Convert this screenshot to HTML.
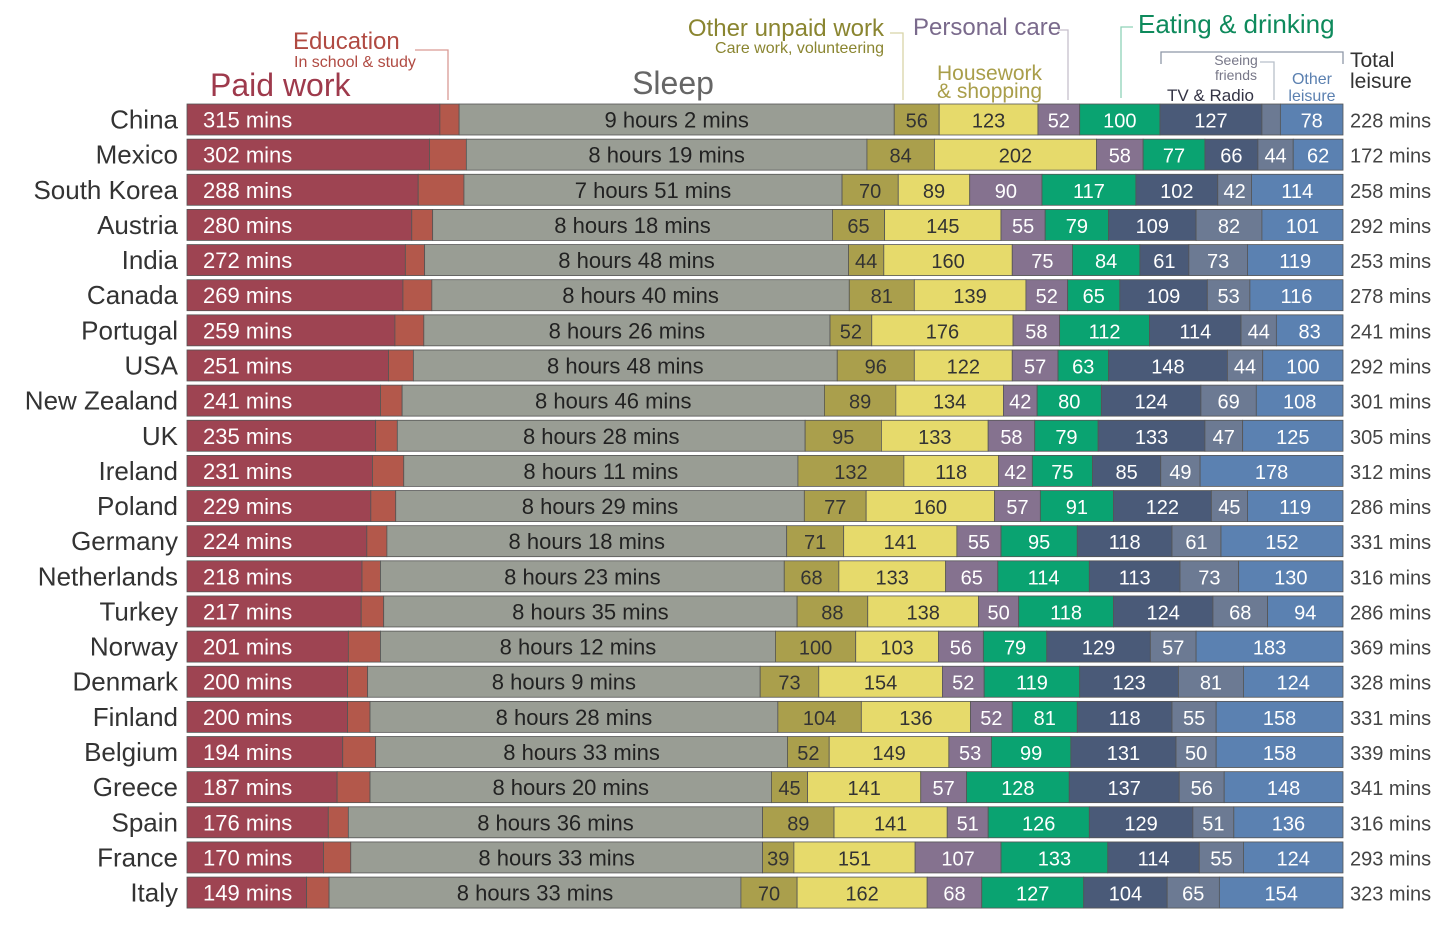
<!DOCTYPE html>
<html><head><meta charset="utf-8"><style>
body{margin:0;background:#fff;}
svg text{font-family:"Liberation Sans",sans-serif;}
</style></head><body>
<svg id="chart" width="1456" height="925" viewBox="0 0 1456 925" xmlns="http://www.w3.org/2000/svg">
<g>
<text x="293" y="49" font-size="24" fill="#b04a42">Education</text>
<text x="294" y="67" font-size="16" fill="#b04a42">In school &amp; study</text>
<polyline points="415,50 448,50 448,100" fill="none" stroke="#d99a94" stroke-width="1.3"/>
<text x="210" y="96" font-size="32" fill="#9e3a4c">Paid work</text>
<text x="673" y="94" font-size="32" fill="#666" text-anchor="middle">Sleep</text>
<text x="884" y="36" font-size="24" fill="#8a8530" text-anchor="end">Other unpaid work</text>
<text x="884" y="53" font-size="16" fill="#8a8530" text-anchor="end">Care work, volunteering</text>
<polyline points="890,33 903,33 903,100" fill="none" stroke="#d8d4a8" stroke-width="1.3"/>
<text x="913" y="35" font-size="24" fill="#7a6a8c">Personal care</text>
<polyline points="1058,30 1068,30 1068,100" fill="none" stroke="#c6bfcc" stroke-width="1.3"/>
<text x="937" y="80" font-size="21" fill="#a99e4a">Housework</text>
<text x="937" y="98" font-size="21" fill="#a99e4a">&amp; shopping</text>
<text x="1138" y="33" font-size="26" fill="#0e8a5c">Eating &amp; drinking</text>
<polyline points="1133,27 1121,27 1121,98" fill="none" stroke="#8fd2b8" stroke-width="1.3"/>
<polyline points="1161,64 1161,52 1343,52 1343,64" fill="none" stroke="#8e97a8" stroke-width="1.3"/>
<text x="1236" y="65" font-size="14" fill="#778" text-anchor="middle">Seeing</text>
<text x="1236" y="80" font-size="14" fill="#778" text-anchor="middle">friends</text>
<polyline points="1260,62 1274,62 1274,100" fill="none" stroke="#b8bfca" stroke-width="1.3"/>
<text x="1167" y="101" font-size="17" fill="#334">TV &amp; Radio</text>
<text x="1312" y="84" font-size="16" fill="#5b80b0" text-anchor="middle">Other</text>
<text x="1312" y="101" font-size="16" fill="#5b80b0" text-anchor="middle">leisure</text>
<text x="1350" y="67" font-size="21" fill="#333">Total</text>
<text x="1350" y="88" font-size="21" fill="#333">leisure</text>
</g>
<g id="rows"></g>
</svg>
<script>
const countries=["China","Mexico","South Korea","Austria","India","Canada","Portugal","USA","New Zealand","UK","Ireland","Poland","Germany","Netherlands","Turkey","Norway","Denmark","Finland","Belgium","Greece","Spain","France","Italy"];
const paid=[315,302,288,280,272,269,259,251,241,235,231,229,224,218,217,201,200,200,194,187,176,170,149];
const education=[24,46,57,26,24,36,36,31,27,27,39,31,25,23,28,40,25,28,41,41,25,34,28];
const sleep=[542,499,471,498,528,520,506,528,526,508,491,509,498,503,515,492,489,508,513,500,516,513,513];
const unpaid=[56,84,70,65,44,81,52,96,89,95,132,77,71,68,88,100,73,104,52,45,89,39,70];
const housework=[123,202,89,145,160,139,176,122,134,133,118,160,141,133,138,103,154,136,149,141,141,151,162];
const care=[52,58,90,55,75,52,58,57,42,58,42,57,55,65,50,56,52,52,53,57,51,107,68];
const eating=[100,77,117,79,84,65,112,63,80,79,75,91,95,114,118,79,119,81,99,128,126,133,127];
const tv=[127,66,102,109,61,109,114,148,124,133,85,122,118,113,124,129,123,118,131,137,129,114,104];
const friends=[23,44,42,82,73,53,44,44,69,47,49,45,61,73,68,57,81,55,50,56,51,55,65];
const otherLeisure=[78,62,114,101,119,116,83,100,108,125,178,119,152,130,94,183,124,158,158,148,136,124,154];
const totalLeisure=[228,172,258,292,253,278,241,292,301,305,312,286,331,316,286,369,328,331,339,341,316,293,323];

const X0=187,X1=1343,TOTAL=1440,Y0=104,PITCH=35.14,BH=31;
const xs=m=>m*(X1-X0)/TOTAL;
const yRow=i=>Y0+i*PITCH;
const series=[
 {name:"paid-work",d:paid,fill:"#9e4452",tc:"#fff",fmt:v=>v+" mins",left:true},
 {name:"education",d:education,fill:"#b3584b",tc:"#fff",fmt:null},
 {name:"sleep",d:sleep,fill:"#999d94",tc:"#222",fmt:v=>Math.floor(v/60)+" hours "+(v%60)+" mins"},
 {name:"other-unpaid",d:unpaid,fill:"#aa9f4c",tc:"#333",fmt:v=>v},
 {name:"housework",d:housework,fill:"#e6da6b",tc:"#333",fmt:v=>v},
 {name:"personal-care",d:care,fill:"#85728f",tc:"#fff",fmt:v=>v},
 {name:"eating",d:eating,fill:"#0aa371",tc:"#fff",fmt:v=>v},
 {name:"tv-radio",d:tv,fill:"#4a5a78",tc:"#fff",fmt:v=>v},
 {name:"seeing-friends",d:friends,fill:"#6c7a93",tc:"#fff",fmt:v=>v},
 {name:"other-leisure",d:otherLeisure,fill:"#5b81b1",tc:"#fff",fmt:v=>v}
];
const NS="http://www.w3.org/2000/svg";
const g=document.getElementById("rows");
function mk(tag,attrs){const e=document.createElementNS(NS,tag);for(const k in attrs)e.setAttribute(k,attrs[k]);return e;}
countries.forEach((c,i)=>{
 const y=yRow(i);
 const row=mk("g",{});
 
 
 const lab=mk("text",{x:178,y:y+BH/2+9,"font-size":26,fill:"#333","text-anchor":"end"});
 
 
 lab.textContent=c;row.appendChild(lab);
 let acc=0;
 series.forEach(s=>{
  const v=s.d[i];const x=X0+xs(acc);const w=xs(v);
  const r=mk("rect",{x:x,y:y,width:w,height:BH,fill:s.fill,stroke:"#555","stroke-width":0.8});
  
  
  row.appendChild(r);
  if(s.fmt && (s.name!=="seeing-friends"||w>26)){
   const t=mk("text",{x:s.left?x+16:x+w/2,y:y+BH/2+8,"font-size":s.left||s.name==="sleep"?22:20,fill:s.tc,"text-anchor":s.left?"start":"middle"});
   
   
   t.textContent=s.fmt(v);row.appendChild(t);
  }
  acc+=v;
 });
 const tl=mk("text",{x:1350,y:y+BH/2+8,"font-size":20,fill:"#444"});
 
 
 tl.textContent=totalLeisure[i]+" mins";row.appendChild(tl);
 g.appendChild(row);
});
</script>
</body></html>
